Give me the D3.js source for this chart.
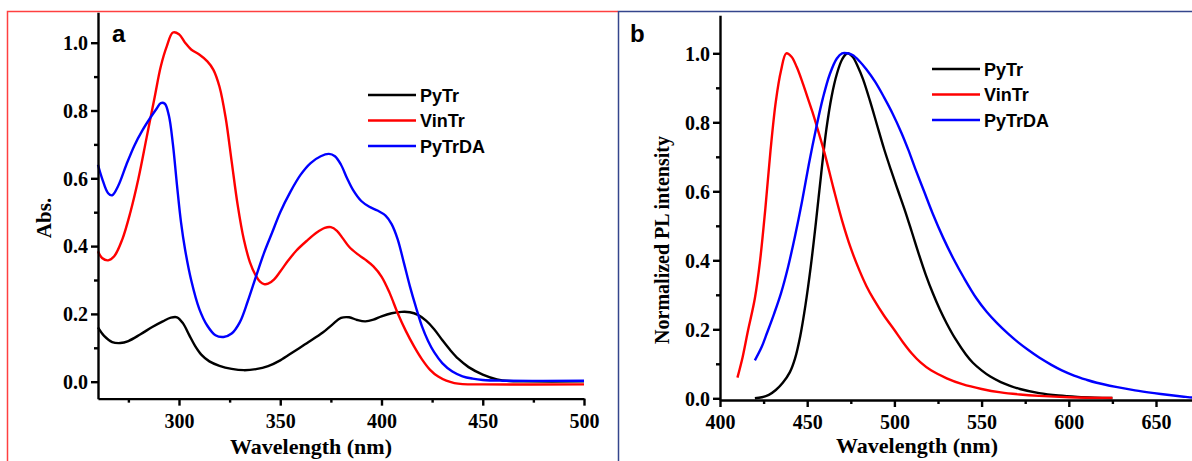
<!DOCTYPE html>
<html>
<head>
<meta charset="utf-8">
<script src="https://cdn.jsdelivr.net/npm/d3@7"></script>
<style>
  html, body { margin: 0; padding: 0; background: #fff; }
  svg { display: block; }
  .tick text { font-family: "Liberation Serif", "Times New Roman", serif; font-weight: bold; font-size: 20px; fill: #000; }
</style>
</head>
<body>
<svg id="chart" width="1192" height="461"></svg>
<script>
// ---- Panel a: absorption spectra (wavelength nm, absorbance) ----
const absPyTr = [[260,.16],[263,.135],[267,.117],[271,.114],[275,.12],[281,.14],[287,.162],[292,.178],[296,.189],[299,.19],[302,.172],[305,.138],[308,.105],[311,.08],[315,.06],[320,.047],[326,.038],[332,.034],[338,.037],[344,.046],[350,.063],[357,.09],[364,.117],[371,.145],[376,.17],[380,.188],[384,.19],[388,.182],[392,.178],[396,.183],[400,.193],[405,.202],[410,.206],[414,.205],[418,.197],[422,.18],[426,.155],[430,.123],[434,.093],[438,.067],[443,.043],[450,.021],[457,.007],[463,.002],[470,.001],[500,.001]];
const absVinTr = [[260,.385],[262,.365],[265,.358],[268,.37],[272,.42],[276,.5],[280,.6],[284,.72],[288,.84],[291,.93],[294,.99],[297,1.03],[300,1.025],[303,1.0],[306,.98],[310,.965],[314,.945],[317,.92],[320,.87],[323,.78],[326,.65],[329,.52],[332,.42],[335,.353],[338,.312],[340,.295],[342,.288],[344,.289],[347,.302],[350,.325],[354,.358],[358,.387],[363,.415],[368,.44],[372,.454],[375,.456],[378,.445],[381,.422],[384,.398],[388,.377],[392,.36],[396,.34],[400,.31],[404,.262],[408,.202],[412,.15],[416,.105],[420,.066],[424,.035],[428,.015],[432,.003],[436,-.004],[440,-.007],[450,-.008],[500,-.008]];
const absPyTrDA = [[260,.64],[262,.6],[265,.556],[267,.55],[270,.578],[274,.64],[278,.697],[282,.742],[286,.78],[289,.806],[291,.822],[293,.82],[295,.785],[297,.7],[299,.58],[301,.47],[303,.39],[306,.3],[310,.215],[314,.165],[318,.137],[322,.132],[326,.142],[330,.175],[334,.238],[338,.31],[342,.38],[346,.44],[350,.5],[355,.56],[360,.61],[365,.645],[370,.665],[374,.672],[377,.665],[380,.64],[383,.6],[386,.565],[390,.533],[394,.516],[398,.505],[402,.49],[405,.465],[408,.42],[411,.352],[414,.282],[417,.22],[420,.163],[423,.12],[426,.087],[430,.055],[435,.03],[440,.016],[445,.009],[450,.005],[460,.003],[500,.003]];

// ---- Panel b: normalized photoluminescence ----
const plPyTr = [[420,0],[424,.003],[428,.01],[432,.024],[436,.045],[440,.075],[443,.115],[446,.18],[449,.27],[452,.38],[455,.51],[458,.65],[461,.78],[464,.875],[467,.94],[470,.982],[473,1.0],[476,.99],[479,.962],[482,.925],[486,.862],[490,.793],[494,.724],[498,.662],[502,.603],[506,.545],[510,.482],[514,.418],[518,.358],[522,.305],[526,.258],[530,.217],[535,.172],[541,.127],[545,.103],[550,.081],[555,.063],[561,.047],[566,.037],[572,.027],[583,.015],[594,.008],[605,.004],[615,.002],[625,.001]];
const plVinTr = [[410,.06],[413,.12],[416,.195],[420,.29],[423,.4],[426,.55],[429,.72],[432,.86],[435,.95],[438,1.0],[441,.99],[444,.96],[447,.92],[450,.875],[453,.83],[456,.78],[460,.71],[465,.61],[470,.515],[475,.435],[480,.37],[484,.325],[488,.288],[494,.24],[500,.198],[505,.162],[510,.13],[515,.104],[521,.081],[530,.058],[539,.041],[550,.027],[561,.017],[572,.011],[583,.007],[600,.003],[625,.001]];
const plPyTrDA = [[420,.11],[424,.15],[427,.19],[431,.245],[435,.305],[439,.38],[443,.47],[447,.57],[451,.68],[455,.78],[459,.87],[463,.94],[467,.985],[470,1.0],[473,1.0],[476,.995],[480,.977],[484,.953],[489,.917],[494,.873],[499,.825],[504,.77],[508,.72],[512,.665],[517,.6],[522,.535],[528,.465],[534,.403],[540,.348],[547,.29],[553,.25],[559,.217],[565,.188],[571,.162],[577,.139],[583,.118],[590,.097],[596,.081],[603,.066],[610,.054],[616,.045],[627,.033],[638,.023],[649,.015],[660,.008],[667,.004],[673,.001]];

const seriesNames = ["PyTr", "VinTr", "PyTrDA"];
const seriesColors = ["#000000", "#ff0000", "#0000ff"];

const absTicks = [300, 350, 400, 450, 500];
const absMinor = [275, 325, 375, 425, 475];
const absYTicks = [0, 0.2, 0.4, 0.6, 0.8, 1.0];
const absYMinor = [0.1, 0.3, 0.5, 0.7, 0.9];
const plTicks = [400, 450, 500, 550, 600, 650];
const plMinor = [425, 475, 525, 575, 625];
const plYTicks = [0, 0.2, 0.4, 0.6, 0.8, 1.0];
const plYMinor = [0.1, 0.3, 0.5, 0.7, 0.9];

const svg = d3.select("#chart");
const SERIF = '"Liberation Serif", "Times New Roman", serif';
const SANS = '"Liberation Sans", Arial, sans-serif';

// frame lines around each panel
svg.append("path").attr("d", "M7.5,461 V11.5 H618").attr("fill", "none")
  .attr("stroke", "#ff4040").attr("stroke-width", 1.5);
svg.append("path").attr("d", "M618.5,461 V11.5 H1192").attr("fill", "none")
  .attr("stroke", "#34468c").attr("stroke-width", 1.5);

function panel(cfg) {
  const g = svg.append("g");
  const x = d3.scaleLinear().domain(cfg.xDomain).range(cfg.xRange);
  const y = d3.scaleLinear().domain(cfg.yDomain).range(cfg.yRange);
  const y0 = y(cfg.yDomain[0]);
  const x0 = x(cfg.xDomain[0]);

  // curves
  const line = d3.line().x(d => x(d[0])).y(d => y(d[1])).curve(d3.curveCatmullRom.alpha(0.5));
  cfg.data.forEach((s, i) => {
    g.append("path").datum(s).attr("d", line).attr("fill", "none")
      .attr("stroke", seriesColors[i]).attr("stroke-width", 2.4)
      .attr("stroke-linejoin", "round");
  });

  // bottom axis
  g.append("g").attr("transform", `translate(0,${y0})`)
    .call(d3.axisBottom(x).tickValues(cfg.xTicks).tickSize(7).tickSizeOuter(0).tickPadding(8).tickFormat(d3.format("d")));
  g.append("g").attr("transform", `translate(0,${y0})`)
    .call(d3.axisBottom(x).tickValues(cfg.xMinor).tickSize(4).tickFormat(""))
    .call(s => s.select(".domain").remove());
  // left axis
  const ya = g.append("g").attr("transform", `translate(${x0},0)`)
    .call(d3.axisLeft(y).tickValues(cfg.yTicks).tickSize(7).tickSizeOuter(0).tickPadding(3).tickFormat(d3.format(".1f")));
  g.append("g").attr("transform", `translate(${x0},0)`)
    .call(d3.axisLeft(y).tickValues(cfg.yMinor).tickSize(4).tickFormat(""))
    .call(s => s.select(".domain").remove());
  g.selectAll(".domain, .tick line").attr("stroke", "#000").attr("stroke-width", 2.4);
  ya.selectAll(".tick text").attr("dy", "0.34em");

  // axis titles
  g.append("text").attr("x", cfg.xTitlePos[0]).attr("y", cfg.xTitlePos[1])
    .attr("text-anchor", "middle").attr("font-family", SERIF).attr("font-weight", "bold")
    .attr("font-size", 22).text("Wavelength (nm)");
  g.append("text").attr("transform", `translate(${cfg.yTitlePos[0]},${cfg.yTitlePos[1]}) rotate(-90)`)
    .attr("text-anchor", "middle").attr("font-family", SERIF).attr("font-weight", "bold")
    .attr("font-size", cfg.yTitleSize).text(cfg.yTitle);

  // panel letter
  g.append("text").attr("x", cfg.letterPos[0]).attr("y", cfg.letterPos[1])
    .attr("font-family", SANS).attr("font-weight", "bold").attr("font-size", 24).text(cfg.letter);

  // legend
  seriesNames.forEach((name, i) => {
    const ly = cfg.legendPos[1] + i * 25.5;
    g.append("line").attr("x1", cfg.legendPos[0]).attr("x2", cfg.legendPos[0] + 48)
      .attr("y1", ly).attr("y2", ly).attr("stroke", seriesColors[i]).attr("stroke-width", 2.4);
    g.append("text").attr("x", cfg.legendPos[0] + 52).attr("y", ly + 6.5)
      .attr("font-family", SANS).attr("font-weight", "bold").attr("font-size", 18).text(name);
  });
}

panel({
  data: [absPyTr, absVinTr, absPyTrDA],
  xDomain: [260, 500], xRange: [98, 584],
  yDomain: [-0.05, 1.09], yRange: [381.7 + 0.05 * 339, 381.7 - 1.09 * 339],
  xTicks: absTicks, xMinor: absMinor, yTicks: absYTicks, yMinor: absYMinor,
  xTitlePos: [311, 454], yTitlePos: [51, 218], yTitle: "Abs.", yTitleSize: 21,
  letter: "a", letterPos: [112, 42], legendPos: [368, 95]
});

panel({
  data: [plPyTr, plVinTr, plPyTrDA],
  xDomain: [400, 675], xRange: [720, 720 + 275 * 1.744],
  yDomain: [-0.005, 1.11], yRange: [398.3 + 0.005 * 345, 398.3 - 1.11 * 345],
  xTicks: plTicks, xMinor: plMinor, yTicks: plYTicks, yMinor: plYMinor,
  xTitlePos: [917, 453], yTitlePos: [669, 240], yTitle: "Normalized PL intensity", yTitleSize: 20,
  letter: "b", letterPos: [630, 42], legendPos: [932, 69]
});
</script>
</body>
</html>
